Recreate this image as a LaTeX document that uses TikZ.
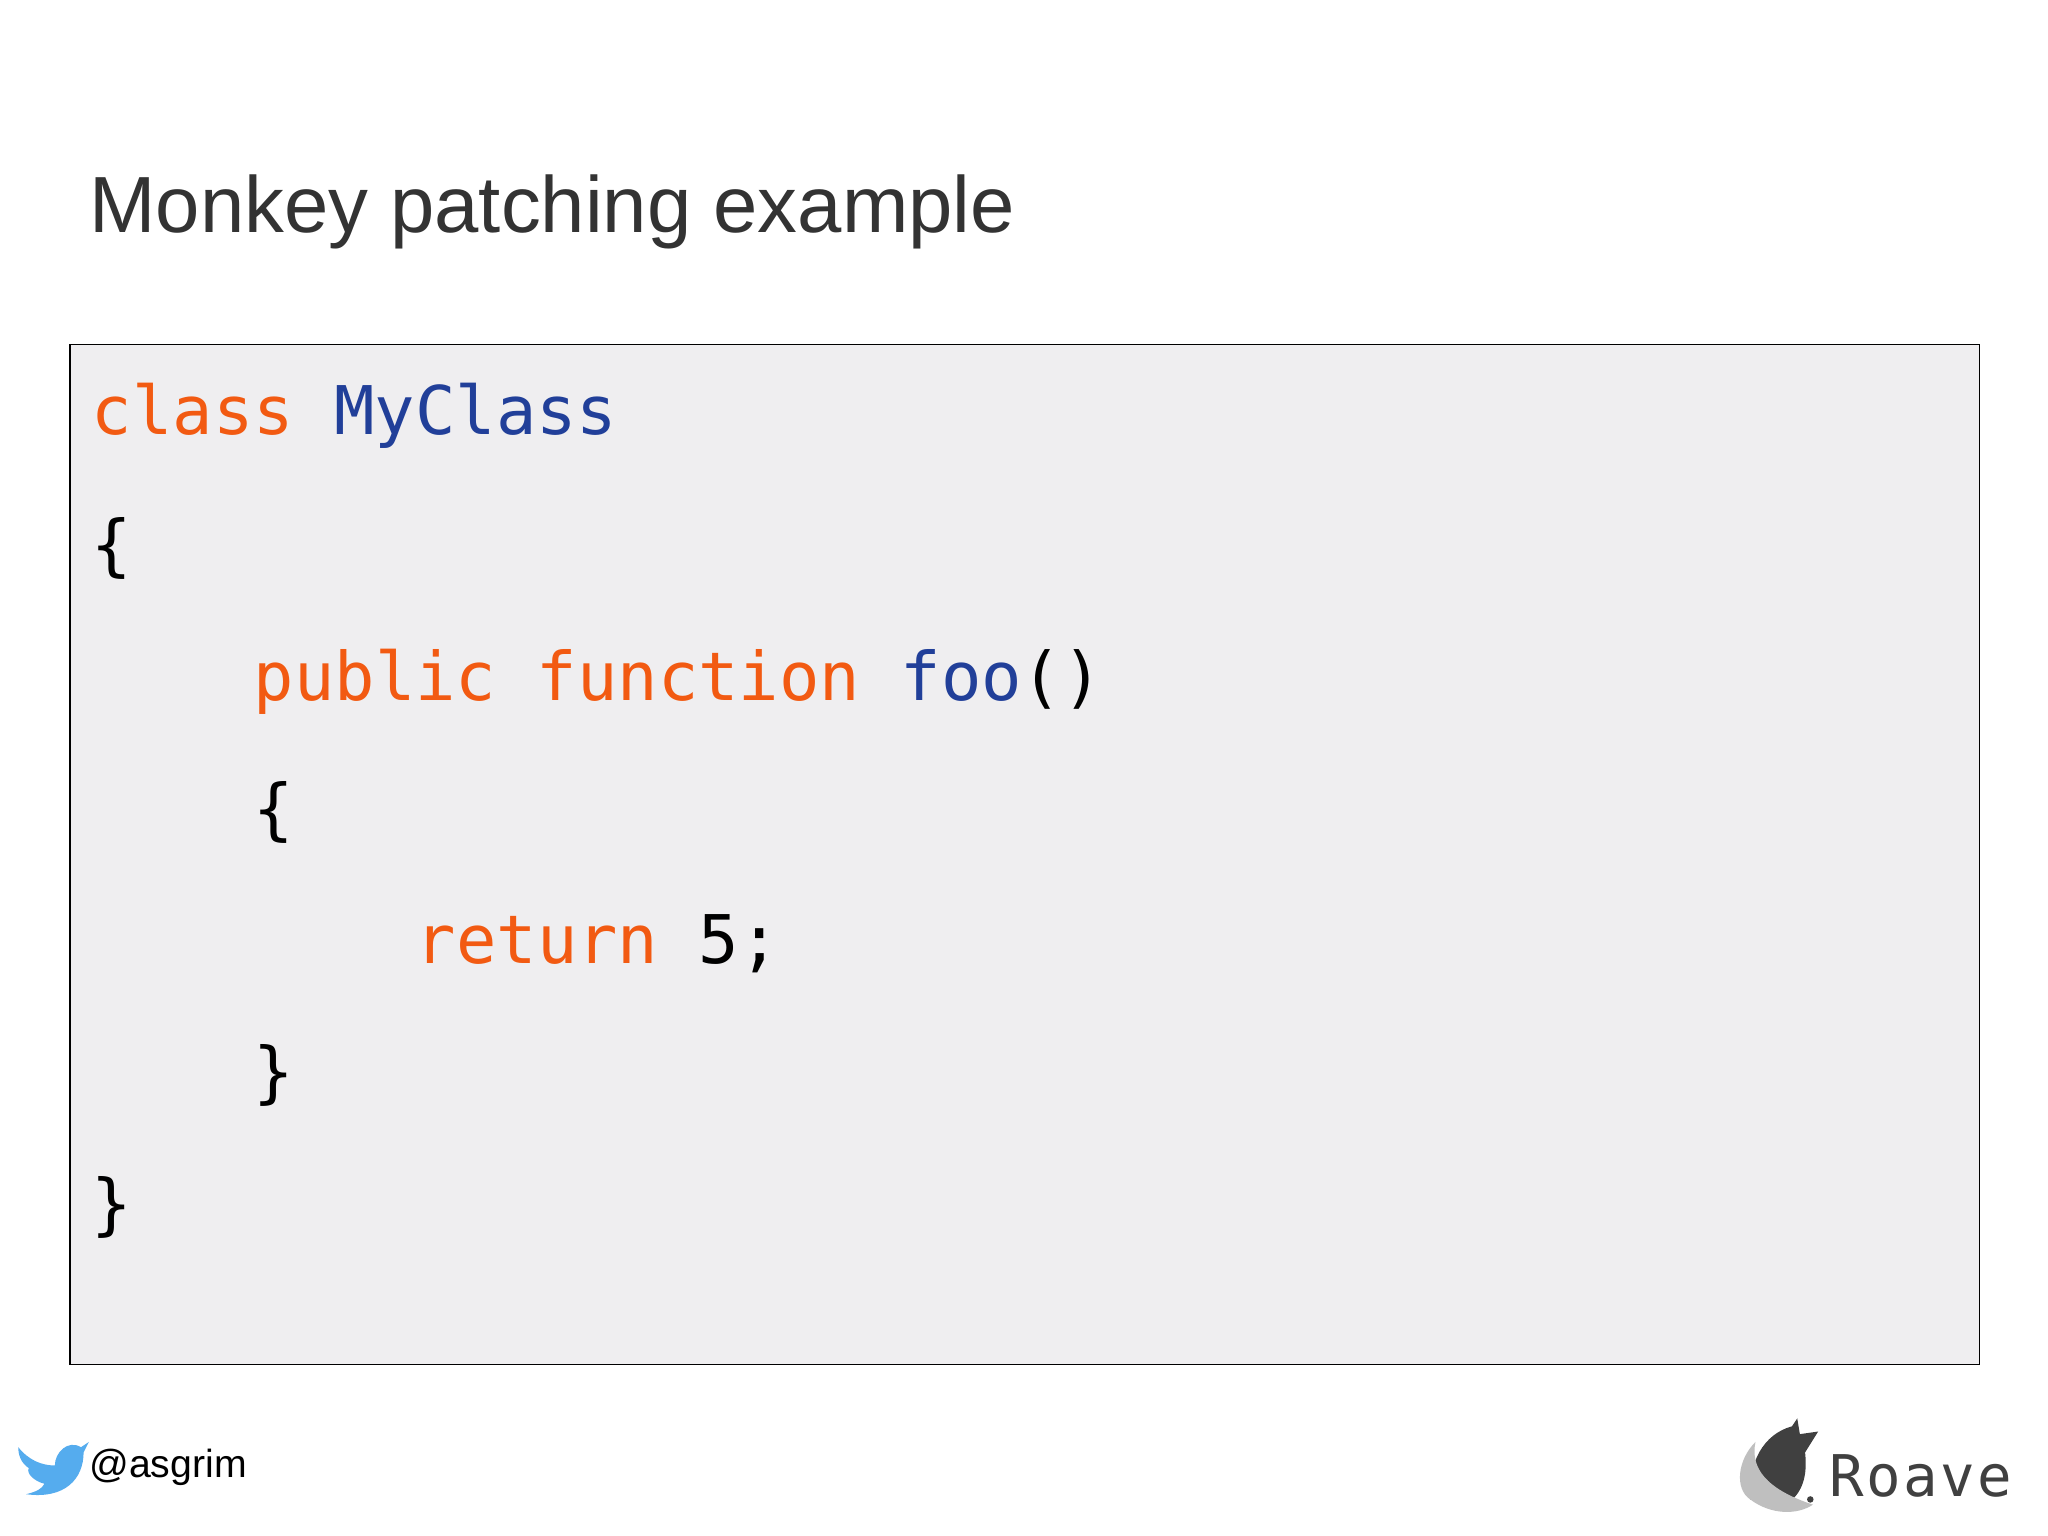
\documentclass[tikz,border=0pt]{standalone}
\usepackage{fontspec}
\setmainfont{Liberation Sans}
\newfontfamily\codefont{DejaVu Sans Mono}
\definecolor{kw}{HTML}{F25A12}
\definecolor{nm}{HTML}{213F99}
\definecolor{boxbg}{HTML}{EFEEF0}
\definecolor{tw}{HTML}{55ACEE}
\begin{document}
\begin{tikzpicture}[x=0.5pt,y=-0.5pt,
  codeline/.style={anchor=base west,inner sep=0,font=\codefont\fontsize{25.7}{30}\selectfont}]
\useasboundingbox[fill=white] (0,0) rectangle (1568,1176);
\node[anchor=base west,inner sep=0,font=\fontsize{30.5}{36}\selectfont,text=black!80] (title) at (68,178) {Monkey patching example};
\node[draw=black,line width=0.6pt,fill=boxbg,minimum width=1462*0.5pt,minimum height=781*0.5pt,anchor=north west,inner sep=0] (box) at (53,263) {};
\node[codeline] (l1) at (70,333) {\textcolor{kw}{class} \textcolor{nm}{MyClass}};
\node[codeline] (l2) at (70,435) {\{};
\node[codeline] (l3) at (194,536) {\textcolor{kw}{public} \textcolor{kw}{function} \textcolor{nm}{foo}()};
\node[codeline] (l4) at (194,637) {\{};
\node[codeline] (l5) at (318,738) {\textcolor{kw}{return} 5;};
\node[codeline] (l6) at (194,839) {\}};
\node[codeline] (l7) at (70,940) {\}};
% twitter bird
\fill[tw] (14,1108) .. controls (22,1118) and (32,1122) .. (42,1122)
  .. controls (42,1112) and (52,1102) .. (62,1108) -- (68,1104) -- (64,1112)
  .. controls (64,1132) and (50,1148) .. (20,1144)
  .. controls (28,1142) and (32,1140) .. (34,1136)
  .. controls (26,1134) and (20,1128) .. (22,1124)
  .. controls (16,1120) and (14,1114) .. (14,1108) -- cycle;
\node[anchor=base west,inner sep=0,font=\fontsize{15}{18}\selectfont] (handle) at (68,1131) {@asgrim};
% Roave logo
\fill[black!75] (1340,1148) .. controls (1338,1120) and (1350,1098) .. (1372,1092) -- (1376,1086) -- (1378,1098) -- (1392,1096) -- (1382,1112) .. controls (1384,1130) and (1380,1142) .. (1370,1150) -- cycle;
\fill[black!25] (1340,1148) .. controls (1328,1140) and (1330,1118) .. (1344,1104) .. controls (1340,1124) and (1352,1140) .. (1388,1152) .. controls (1376,1160) and (1356,1160) .. (1340,1148) -- cycle;
\fill[black!75] (1386,1148) circle (2.5);
\node[anchor=base west,inner sep=0,font=\codefont\fontsize{22}{26}\selectfont,text=black!75] (roave) at (1400,1146) {R\kern1pt o\kern1pt a\kern1pt v\kern1pt e};
\end{tikzpicture}
\end{document}
